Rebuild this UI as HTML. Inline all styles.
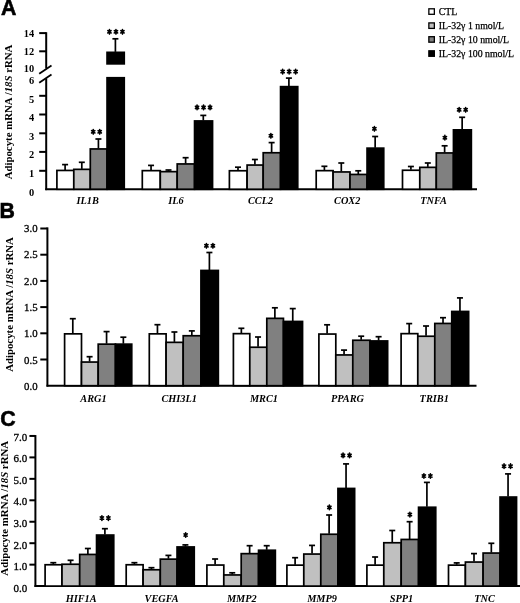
<!DOCTYPE html>
<html><head><meta charset="utf-8"><title>Figure</title>
<style>
html,body{margin:0;padding:0;background:#fff;}
body{width:520px;height:603px;overflow:hidden;}
svg{display:block;will-change:transform;filter:blur(0.3px);}
text{fill:#000;}
</style></head>
<body>
<svg width="520" height="603" viewBox="0 0 520 603">
<rect x="0" y="0" width="520" height="603" fill="#fff"/>
<text transform="translate(0.90,15.30) scale(0.93,1)" x="0" y="0" font-family='"Liberation Sans", sans-serif' font-size="22.9" font-weight="bold" stroke="#000" stroke-width="0.6">A</text>
<line x1="46.20" y1="32.20" x2="46.20" y2="68.50" stroke="#000" stroke-width="2.0" stroke-linecap="butt"/>
<line x1="46.20" y1="78.30" x2="46.20" y2="190.15" stroke="#000" stroke-width="2.0" stroke-linecap="butt"/>
<line x1="45.30" y1="189.25" x2="477.00" y2="189.25" stroke="#000" stroke-width="2.0" stroke-linecap="butt"/>
<line x1="39.20" y1="33.10" x2="46.20" y2="33.10" stroke="#000" stroke-width="2.0" stroke-linecap="butt"/>
<line x1="39.20" y1="51.30" x2="46.20" y2="51.30" stroke="#000" stroke-width="2.0" stroke-linecap="butt"/>
<line x1="39.20" y1="95.80" x2="46.20" y2="95.80" stroke="#000" stroke-width="2.0" stroke-linecap="butt"/>
<line x1="39.20" y1="114.50" x2="46.20" y2="114.50" stroke="#000" stroke-width="2.0" stroke-linecap="butt"/>
<line x1="39.20" y1="133.30" x2="46.20" y2="133.30" stroke="#000" stroke-width="2.0" stroke-linecap="butt"/>
<line x1="39.20" y1="151.90" x2="46.20" y2="151.90" stroke="#000" stroke-width="2.0" stroke-linecap="butt"/>
<line x1="39.20" y1="170.80" x2="46.20" y2="170.80" stroke="#000" stroke-width="2.0" stroke-linecap="butt"/>
<line x1="39.20" y1="73.80" x2="51.50" y2="65.50" stroke="#000" stroke-width="1.8" stroke-linecap="butt"/>
<line x1="39.20" y1="82.70" x2="51.50" y2="74.60" stroke="#000" stroke-width="1.8" stroke-linecap="butt"/>
<text x="34.20" y="37.30" font-family='"Liberation Serif", serif' font-size="10.4" font-weight="bold" font-style="normal" text-anchor="end" >14</text>
<text x="34.20" y="55.30" font-family='"Liberation Serif", serif' font-size="10.4" font-weight="bold" font-style="normal" text-anchor="end" >12</text>
<text x="34.20" y="71.50" font-family='"Liberation Serif", serif' font-size="10.4" font-weight="bold" font-style="normal" text-anchor="end" >10</text>
<text x="34.20" y="83.50" font-family='"Liberation Serif", serif' font-size="10.4" font-weight="bold" font-style="normal" text-anchor="end" >6</text>
<text x="34.20" y="102.70" font-family='"Liberation Serif", serif' font-size="10.4" font-weight="bold" font-style="normal" text-anchor="end" >5</text>
<text x="34.20" y="120.80" font-family='"Liberation Serif", serif' font-size="10.4" font-weight="bold" font-style="normal" text-anchor="end" >4</text>
<text x="34.20" y="139.60" font-family='"Liberation Serif", serif' font-size="10.4" font-weight="bold" font-style="normal" text-anchor="end" >3</text>
<text x="34.20" y="158.30" font-family='"Liberation Serif", serif' font-size="10.4" font-weight="bold" font-style="normal" text-anchor="end" >2</text>
<text x="34.20" y="177.20" font-family='"Liberation Serif", serif' font-size="10.4" font-weight="bold" font-style="normal" text-anchor="end" >1</text>
<text x="34.20" y="195.80" font-family='"Liberation Serif", serif' font-size="10.4" font-weight="bold" font-style="normal" text-anchor="end" >0</text>
<text transform="translate(12.40,112.00) rotate(-90)" x="0" y="0" font-family='"Liberation Serif", serif' font-size="10.8" font-weight="bold" text-anchor="middle">Adipocyte mRNA /<tspan font-style="italic">18S</tspan> rRNA</text>
<!-- A groups -->
<line x1="65.10" y1="170.00" x2="65.10" y2="164.60" stroke="#000" stroke-width="1.7" stroke-linecap="butt"/>
<line x1="62.10" y1="164.60" x2="68.10" y2="164.60" stroke="#000" stroke-width="1.7" stroke-linecap="butt"/>
<rect x="56.90" y="170.45" width="16.90" height="18.80" fill="#ffffff" stroke="#000" stroke-width="1.7"/>
<line x1="81.80" y1="168.90" x2="81.80" y2="162.30" stroke="#000" stroke-width="1.7" stroke-linecap="butt"/>
<line x1="78.80" y1="162.30" x2="84.80" y2="162.30" stroke="#000" stroke-width="1.7" stroke-linecap="butt"/>
<rect x="73.80" y="169.35" width="16.50" height="19.90" fill="#c0c0c0" stroke="#000" stroke-width="1.7"/>
<line x1="98.42" y1="148.50" x2="98.42" y2="139.00" stroke="#000" stroke-width="1.7" stroke-linecap="butt"/>
<line x1="95.42" y1="139.00" x2="101.42" y2="139.00" stroke="#000" stroke-width="1.7" stroke-linecap="butt"/>
<rect x="90.30" y="148.95" width="16.75" height="40.30" fill="#808080" stroke="#000" stroke-width="1.7"/>
<line x1="115.40" y1="51.90" x2="115.40" y2="38.80" stroke="#000" stroke-width="1.7" stroke-linecap="butt"/>
<line x1="112.40" y1="38.80" x2="118.40" y2="38.80" stroke="#000" stroke-width="1.7" stroke-linecap="butt"/>
<rect x="107.05" y="52.35" width="17.20" height="11.50" fill="#000000" stroke="#000" stroke-width="1.7"/>
<rect x="107.05" y="77.75" width="17.20" height="111.50" fill="#000000" stroke="#000" stroke-width="1.7"/>
<path d="M93.22 129.50L93.22 134.10M91.59 130.65L94.86 132.95M94.86 130.65L91.59 132.95" stroke="#000" stroke-width="1.6" stroke-linecap="round" fill="none"/>
<path d="M99.72 129.50L99.72 134.10M98.09 130.65L101.36 132.95M101.36 130.65L98.09 132.95" stroke="#000" stroke-width="1.6" stroke-linecap="round" fill="none"/>
<path d="M109.45 29.50L109.45 34.10M107.82 30.65L111.08 32.95M111.08 30.65L107.82 32.95" stroke="#000" stroke-width="1.6" stroke-linecap="round" fill="none"/>
<path d="M115.95 29.50L115.95 34.10M114.32 30.65L117.58 32.95M117.58 30.65L114.32 32.95" stroke="#000" stroke-width="1.6" stroke-linecap="round" fill="none"/>
<path d="M122.45 29.50L122.45 34.10M120.82 30.65L124.08 32.95M124.08 30.65L120.82 32.95" stroke="#000" stroke-width="1.6" stroke-linecap="round" fill="none"/>
<line x1="151.05" y1="170.20" x2="151.05" y2="165.40" stroke="#000" stroke-width="1.7" stroke-linecap="butt"/>
<line x1="148.05" y1="165.40" x2="154.05" y2="165.40" stroke="#000" stroke-width="1.7" stroke-linecap="butt"/>
<rect x="142.30" y="170.65" width="18.00" height="18.60" fill="#ffffff" stroke="#000" stroke-width="1.7"/>
<line x1="168.50" y1="171.20" x2="168.50" y2="170.00" stroke="#000" stroke-width="1.7" stroke-linecap="butt"/>
<line x1="165.50" y1="170.00" x2="171.50" y2="170.00" stroke="#000" stroke-width="1.7" stroke-linecap="butt"/>
<rect x="160.30" y="171.65" width="16.90" height="17.60" fill="#c0c0c0" stroke="#000" stroke-width="1.7"/>
<line x1="185.62" y1="163.50" x2="185.62" y2="157.70" stroke="#000" stroke-width="1.7" stroke-linecap="butt"/>
<line x1="182.62" y1="157.70" x2="188.62" y2="157.70" stroke="#000" stroke-width="1.7" stroke-linecap="butt"/>
<rect x="177.20" y="163.95" width="17.35" height="25.30" fill="#808080" stroke="#000" stroke-width="1.7"/>
<line x1="203.30" y1="120.50" x2="203.30" y2="115.40" stroke="#000" stroke-width="1.7" stroke-linecap="butt"/>
<line x1="200.30" y1="115.40" x2="206.30" y2="115.40" stroke="#000" stroke-width="1.7" stroke-linecap="butt"/>
<rect x="194.55" y="120.95" width="18.00" height="68.30" fill="#000000" stroke="#000" stroke-width="1.7"/>
<path d="M197.05 105.10L197.05 109.70M195.42 106.25L198.68 108.55M198.68 106.25L195.42 108.55" stroke="#000" stroke-width="1.6" stroke-linecap="round" fill="none"/>
<path d="M203.55 105.10L203.55 109.70M201.92 106.25L205.18 108.55M205.18 106.25L201.92 108.55" stroke="#000" stroke-width="1.6" stroke-linecap="round" fill="none"/>
<path d="M210.05 105.10L210.05 109.70M208.42 106.25L211.68 108.55M211.68 106.25L208.42 108.55" stroke="#000" stroke-width="1.6" stroke-linecap="round" fill="none"/>
<line x1="238.00" y1="170.30" x2="238.00" y2="167.20" stroke="#000" stroke-width="1.7" stroke-linecap="butt"/>
<line x1="235.00" y1="167.20" x2="241.00" y2="167.20" stroke="#000" stroke-width="1.7" stroke-linecap="butt"/>
<rect x="229.40" y="170.75" width="17.70" height="18.50" fill="#ffffff" stroke="#000" stroke-width="1.7"/>
<line x1="254.90" y1="164.60" x2="254.90" y2="159.50" stroke="#000" stroke-width="1.7" stroke-linecap="butt"/>
<line x1="251.90" y1="159.50" x2="257.90" y2="159.50" stroke="#000" stroke-width="1.7" stroke-linecap="butt"/>
<rect x="247.10" y="165.05" width="16.10" height="24.20" fill="#c0c0c0" stroke="#000" stroke-width="1.7"/>
<line x1="271.62" y1="152.30" x2="271.62" y2="142.60" stroke="#000" stroke-width="1.7" stroke-linecap="butt"/>
<line x1="268.62" y1="142.60" x2="274.62" y2="142.60" stroke="#000" stroke-width="1.7" stroke-linecap="butt"/>
<rect x="263.20" y="152.75" width="17.35" height="36.50" fill="#808080" stroke="#000" stroke-width="1.7"/>
<line x1="288.90" y1="86.20" x2="288.90" y2="78.10" stroke="#000" stroke-width="1.7" stroke-linecap="butt"/>
<line x1="285.90" y1="78.10" x2="291.90" y2="78.10" stroke="#000" stroke-width="1.7" stroke-linecap="butt"/>
<rect x="280.55" y="86.65" width="17.20" height="102.60" fill="#000000" stroke="#000" stroke-width="1.7"/>
<path d="M270.88 133.50L270.88 138.10M269.24 134.65L272.51 136.95M272.51 134.65L269.24 136.95" stroke="#000" stroke-width="1.6" stroke-linecap="round" fill="none"/>
<path d="M282.65 69.30L282.65 73.90M281.02 70.45L284.28 72.75M284.28 70.45L281.02 72.75" stroke="#000" stroke-width="1.6" stroke-linecap="round" fill="none"/>
<path d="M289.15 69.30L289.15 73.90M287.52 70.45L290.78 72.75M290.78 70.45L287.52 72.75" stroke="#000" stroke-width="1.6" stroke-linecap="round" fill="none"/>
<path d="M295.65 69.30L295.65 73.90M294.02 70.45L297.28 72.75M297.28 70.45L294.02 72.75" stroke="#000" stroke-width="1.6" stroke-linecap="round" fill="none"/>
<line x1="324.40" y1="170.20" x2="324.40" y2="166.30" stroke="#000" stroke-width="1.7" stroke-linecap="butt"/>
<line x1="321.40" y1="166.30" x2="327.40" y2="166.30" stroke="#000" stroke-width="1.7" stroke-linecap="butt"/>
<rect x="316.20" y="170.65" width="16.90" height="18.60" fill="#ffffff" stroke="#000" stroke-width="1.7"/>
<line x1="341.30" y1="171.50" x2="341.30" y2="163.00" stroke="#000" stroke-width="1.7" stroke-linecap="butt"/>
<line x1="338.30" y1="163.00" x2="344.30" y2="163.00" stroke="#000" stroke-width="1.7" stroke-linecap="butt"/>
<rect x="333.10" y="171.95" width="16.90" height="17.30" fill="#c0c0c0" stroke="#000" stroke-width="1.7"/>
<line x1="358.27" y1="174.00" x2="358.27" y2="170.80" stroke="#000" stroke-width="1.7" stroke-linecap="butt"/>
<line x1="355.27" y1="170.80" x2="361.27" y2="170.80" stroke="#000" stroke-width="1.7" stroke-linecap="butt"/>
<rect x="350.00" y="174.45" width="17.05" height="14.80" fill="#808080" stroke="#000" stroke-width="1.7"/>
<line x1="375.15" y1="147.70" x2="375.15" y2="136.50" stroke="#000" stroke-width="1.7" stroke-linecap="butt"/>
<line x1="372.15" y1="136.50" x2="378.15" y2="136.50" stroke="#000" stroke-width="1.7" stroke-linecap="butt"/>
<rect x="367.05" y="148.15" width="16.70" height="41.10" fill="#000000" stroke="#000" stroke-width="1.7"/>
<path d="M374.40 126.50L374.40 131.10M372.77 127.65L376.03 129.95M376.03 127.65L372.77 129.95" stroke="#000" stroke-width="1.6" stroke-linecap="round" fill="none"/>
<line x1="410.90" y1="169.80" x2="410.90" y2="166.50" stroke="#000" stroke-width="1.7" stroke-linecap="butt"/>
<line x1="407.90" y1="166.50" x2="413.90" y2="166.50" stroke="#000" stroke-width="1.7" stroke-linecap="butt"/>
<rect x="402.50" y="170.25" width="17.30" height="19.00" fill="#ffffff" stroke="#000" stroke-width="1.7"/>
<line x1="427.80" y1="166.90" x2="427.80" y2="163.00" stroke="#000" stroke-width="1.7" stroke-linecap="butt"/>
<line x1="424.80" y1="163.00" x2="430.80" y2="163.00" stroke="#000" stroke-width="1.7" stroke-linecap="butt"/>
<rect x="419.80" y="167.35" width="16.50" height="21.90" fill="#c0c0c0" stroke="#000" stroke-width="1.7"/>
<line x1="444.62" y1="152.50" x2="444.62" y2="145.80" stroke="#000" stroke-width="1.7" stroke-linecap="butt"/>
<line x1="441.62" y1="145.80" x2="447.62" y2="145.80" stroke="#000" stroke-width="1.7" stroke-linecap="butt"/>
<rect x="436.30" y="152.95" width="17.15" height="36.30" fill="#808080" stroke="#000" stroke-width="1.7"/>
<line x1="462.15" y1="129.40" x2="462.15" y2="117.30" stroke="#000" stroke-width="1.7" stroke-linecap="butt"/>
<line x1="459.15" y1="117.30" x2="465.15" y2="117.30" stroke="#000" stroke-width="1.7" stroke-linecap="butt"/>
<rect x="453.45" y="129.85" width="17.90" height="59.40" fill="#000000" stroke="#000" stroke-width="1.7"/>
<path d="M444.88 135.40L444.88 140.00M443.24 136.55L446.51 138.85M446.51 136.55L443.24 138.85" stroke="#000" stroke-width="1.6" stroke-linecap="round" fill="none"/>
<path d="M459.15 107.50L459.15 112.10M457.52 108.65L460.78 110.95M460.78 108.65L457.52 110.95" stroke="#000" stroke-width="1.6" stroke-linecap="round" fill="none"/>
<path d="M465.65 107.50L465.65 112.10M464.02 108.65L467.28 110.95M467.28 108.65L464.02 110.95" stroke="#000" stroke-width="1.6" stroke-linecap="round" fill="none"/>
<text x="87.70" y="203.50" font-family='"Liberation Serif", serif' font-size="10.3" font-weight="bold" font-style="italic" text-anchor="middle" >IL1B</text>
<text x="176.00" y="203.50" font-family='"Liberation Serif", serif' font-size="10.3" font-weight="bold" font-style="italic" text-anchor="middle" >IL6</text>
<text x="260.50" y="203.50" font-family='"Liberation Serif", serif' font-size="10.3" font-weight="bold" font-style="italic" text-anchor="middle" >CCL2</text>
<text x="347.20" y="203.50" font-family='"Liberation Serif", serif' font-size="10.3" font-weight="bold" font-style="italic" text-anchor="middle" >COX2</text>
<text x="433.50" y="203.50" font-family='"Liberation Serif", serif' font-size="10.3" font-weight="bold" font-style="italic" text-anchor="middle" >TNFA</text>
<rect x="428.85" y="8.80" width="5.5" height="5.5" fill="#ffffff" stroke="#000" stroke-width="1.3"/>
<text x="438.80" y="14.80" font-family='"Liberation Serif", serif' font-size="9.8" font-weight="normal" font-style="normal" text-anchor="start" stroke="#000" stroke-width="0.25">CTL</text>
<rect x="428.85" y="22.90" width="5.5" height="5.5" fill="#c0c0c0" stroke="#000" stroke-width="1.3"/>
<text x="438.80" y="29.20" font-family='"Liberation Serif", serif' font-size="9.8" font-weight="normal" font-style="normal" text-anchor="start" stroke="#000" stroke-width="0.25">IL-32γ 1 nmol/L</text>
<rect x="428.85" y="36.70" width="5.5" height="5.5" fill="#808080" stroke="#000" stroke-width="1.3"/>
<text x="438.80" y="43.00" font-family='"Liberation Serif", serif' font-size="9.8" font-weight="normal" font-style="normal" text-anchor="start" stroke="#000" stroke-width="0.25">IL-32γ 10 nmol/L</text>
<rect x="428.85" y="50.80" width="5.5" height="5.5" fill="#000000" stroke="#000" stroke-width="1.3"/>
<text x="438.80" y="57.00" font-family='"Liberation Serif", serif' font-size="9.8" font-weight="normal" font-style="normal" text-anchor="start" stroke="#000" stroke-width="0.25">IL-32γ 100 nmol/L</text>
<text transform="translate(-0.50,218.10) scale(0.93,1)" x="0" y="0" font-family='"Liberation Sans", sans-serif' font-size="22.9" font-weight="bold" stroke="#000" stroke-width="0.6">B</text>
<line x1="47.40" y1="227.40" x2="47.40" y2="386.60" stroke="#000" stroke-width="2.0" stroke-linecap="butt"/>
<line x1="46.50" y1="385.70" x2="476.50" y2="385.70" stroke="#000" stroke-width="2.0" stroke-linecap="butt"/>
<line x1="40.30" y1="359.50" x2="47.40" y2="359.50" stroke="#000" stroke-width="2.0" stroke-linecap="butt"/>
<line x1="40.30" y1="333.30" x2="47.40" y2="333.30" stroke="#000" stroke-width="2.0" stroke-linecap="butt"/>
<line x1="40.30" y1="307.10" x2="47.40" y2="307.10" stroke="#000" stroke-width="2.0" stroke-linecap="butt"/>
<line x1="40.30" y1="280.90" x2="47.40" y2="280.90" stroke="#000" stroke-width="2.0" stroke-linecap="butt"/>
<line x1="40.30" y1="254.70" x2="47.40" y2="254.70" stroke="#000" stroke-width="2.0" stroke-linecap="butt"/>
<line x1="40.30" y1="228.50" x2="47.40" y2="228.50" stroke="#000" stroke-width="2.0" stroke-linecap="butt"/>
<text x="37.60" y="390.42" font-family='"Liberation Serif", serif' font-size="10.8" font-weight="normal" font-style="normal" text-anchor="end" stroke="#000" stroke-width="0.3">0.0</text>
<text x="37.60" y="363.95" font-family='"Liberation Serif", serif' font-size="10.8" font-weight="normal" font-style="normal" text-anchor="end" stroke="#000" stroke-width="0.3">0.5</text>
<text x="37.60" y="337.48" font-family='"Liberation Serif", serif' font-size="10.8" font-weight="normal" font-style="normal" text-anchor="end" stroke="#000" stroke-width="0.3">1.0</text>
<text x="37.60" y="311.01" font-family='"Liberation Serif", serif' font-size="10.8" font-weight="normal" font-style="normal" text-anchor="end" stroke="#000" stroke-width="0.3">1.5</text>
<text x="37.60" y="284.54" font-family='"Liberation Serif", serif' font-size="10.8" font-weight="normal" font-style="normal" text-anchor="end" stroke="#000" stroke-width="0.3">2.0</text>
<text x="37.60" y="258.07" font-family='"Liberation Serif", serif' font-size="10.8" font-weight="normal" font-style="normal" text-anchor="end" stroke="#000" stroke-width="0.3">2.5</text>
<text x="37.60" y="231.60" font-family='"Liberation Serif", serif' font-size="10.8" font-weight="normal" font-style="normal" text-anchor="end" stroke="#000" stroke-width="0.3">3.0</text>
<text transform="translate(13.10,304.50) rotate(-90)" x="0" y="0" font-family='"Liberation Serif", serif' font-size="10.8" font-weight="bold" text-anchor="middle">Adipocyte mRNA /<tspan font-style="italic">18S</tspan> rRNA</text>
<line x1="72.80" y1="333.40" x2="72.80" y2="318.70" stroke="#000" stroke-width="1.7" stroke-linecap="butt"/>
<line x1="69.80" y1="318.70" x2="75.80" y2="318.70" stroke="#000" stroke-width="1.7" stroke-linecap="butt"/>
<rect x="64.60" y="333.85" width="16.90" height="51.85" fill="#ffffff" stroke="#000" stroke-width="1.7"/>
<line x1="89.60" y1="361.60" x2="89.60" y2="356.70" stroke="#000" stroke-width="1.7" stroke-linecap="butt"/>
<line x1="86.60" y1="356.70" x2="92.60" y2="356.70" stroke="#000" stroke-width="1.7" stroke-linecap="butt"/>
<rect x="81.50" y="362.05" width="16.70" height="23.65" fill="#c0c0c0" stroke="#000" stroke-width="1.7"/>
<line x1="106.57" y1="343.70" x2="106.57" y2="331.60" stroke="#000" stroke-width="1.7" stroke-linecap="butt"/>
<line x1="103.57" y1="331.60" x2="109.57" y2="331.60" stroke="#000" stroke-width="1.7" stroke-linecap="butt"/>
<rect x="98.20" y="344.15" width="17.25" height="41.55" fill="#808080" stroke="#000" stroke-width="1.7"/>
<line x1="123.35" y1="343.70" x2="123.35" y2="337.20" stroke="#000" stroke-width="1.7" stroke-linecap="butt"/>
<line x1="120.35" y1="337.20" x2="126.35" y2="337.20" stroke="#000" stroke-width="1.7" stroke-linecap="butt"/>
<rect x="115.45" y="344.15" width="16.30" height="41.55" fill="#000000" stroke="#000" stroke-width="1.7"/>
<line x1="157.45" y1="333.40" x2="157.45" y2="324.70" stroke="#000" stroke-width="1.7" stroke-linecap="butt"/>
<line x1="154.45" y1="324.70" x2="160.45" y2="324.70" stroke="#000" stroke-width="1.7" stroke-linecap="butt"/>
<rect x="149.30" y="333.85" width="16.80" height="51.85" fill="#ffffff" stroke="#000" stroke-width="1.7"/>
<line x1="174.40" y1="341.90" x2="174.40" y2="332.00" stroke="#000" stroke-width="1.7" stroke-linecap="butt"/>
<line x1="171.40" y1="332.00" x2="177.40" y2="332.00" stroke="#000" stroke-width="1.7" stroke-linecap="butt"/>
<rect x="166.10" y="342.35" width="17.10" height="43.35" fill="#c0c0c0" stroke="#000" stroke-width="1.7"/>
<line x1="191.82" y1="335.30" x2="191.82" y2="330.90" stroke="#000" stroke-width="1.7" stroke-linecap="butt"/>
<line x1="188.82" y1="330.90" x2="194.82" y2="330.90" stroke="#000" stroke-width="1.7" stroke-linecap="butt"/>
<rect x="183.20" y="335.75" width="17.75" height="49.95" fill="#808080" stroke="#000" stroke-width="1.7"/>
<line x1="209.40" y1="270.00" x2="209.40" y2="252.50" stroke="#000" stroke-width="1.7" stroke-linecap="butt"/>
<line x1="206.40" y1="252.50" x2="212.40" y2="252.50" stroke="#000" stroke-width="1.7" stroke-linecap="butt"/>
<rect x="200.95" y="270.45" width="17.40" height="115.25" fill="#000000" stroke="#000" stroke-width="1.7"/>
<path d="M206.40 243.50L206.40 248.10M204.77 244.65L208.03 246.95M208.03 244.65L204.77 246.95" stroke="#000" stroke-width="1.6" stroke-linecap="round" fill="none"/>
<path d="M212.90 243.50L212.90 248.10M211.27 244.65L214.53 246.95M214.53 244.65L211.27 246.95" stroke="#000" stroke-width="1.6" stroke-linecap="round" fill="none"/>
<line x1="241.35" y1="333.20" x2="241.35" y2="328.30" stroke="#000" stroke-width="1.7" stroke-linecap="butt"/>
<line x1="238.35" y1="328.30" x2="244.35" y2="328.30" stroke="#000" stroke-width="1.7" stroke-linecap="butt"/>
<rect x="233.40" y="333.65" width="16.40" height="52.05" fill="#ffffff" stroke="#000" stroke-width="1.7"/>
<line x1="258.05" y1="346.80" x2="258.05" y2="337.00" stroke="#000" stroke-width="1.7" stroke-linecap="butt"/>
<line x1="255.05" y1="337.00" x2="261.05" y2="337.00" stroke="#000" stroke-width="1.7" stroke-linecap="butt"/>
<rect x="249.80" y="347.25" width="17.00" height="38.45" fill="#c0c0c0" stroke="#000" stroke-width="1.7"/>
<line x1="274.88" y1="317.90" x2="274.88" y2="307.80" stroke="#000" stroke-width="1.7" stroke-linecap="butt"/>
<line x1="271.88" y1="307.80" x2="277.88" y2="307.80" stroke="#000" stroke-width="1.7" stroke-linecap="butt"/>
<rect x="266.80" y="318.35" width="16.65" height="67.35" fill="#808080" stroke="#000" stroke-width="1.7"/>
<line x1="292.75" y1="321.00" x2="292.75" y2="308.60" stroke="#000" stroke-width="1.7" stroke-linecap="butt"/>
<line x1="289.75" y1="308.60" x2="295.75" y2="308.60" stroke="#000" stroke-width="1.7" stroke-linecap="butt"/>
<rect x="283.45" y="321.45" width="19.10" height="64.25" fill="#000000" stroke="#000" stroke-width="1.7"/>
<line x1="327.10" y1="333.60" x2="327.10" y2="324.80" stroke="#000" stroke-width="1.7" stroke-linecap="butt"/>
<line x1="324.10" y1="324.80" x2="330.10" y2="324.80" stroke="#000" stroke-width="1.7" stroke-linecap="butt"/>
<rect x="318.90" y="334.05" width="16.90" height="51.65" fill="#ffffff" stroke="#000" stroke-width="1.7"/>
<line x1="344.05" y1="354.50" x2="344.05" y2="350.10" stroke="#000" stroke-width="1.7" stroke-linecap="butt"/>
<line x1="341.05" y1="350.10" x2="347.05" y2="350.10" stroke="#000" stroke-width="1.7" stroke-linecap="butt"/>
<rect x="335.80" y="354.95" width="17.00" height="30.75" fill="#c0c0c0" stroke="#000" stroke-width="1.7"/>
<line x1="361.18" y1="339.80" x2="361.18" y2="336.20" stroke="#000" stroke-width="1.7" stroke-linecap="butt"/>
<line x1="358.18" y1="336.20" x2="364.18" y2="336.20" stroke="#000" stroke-width="1.7" stroke-linecap="butt"/>
<rect x="352.80" y="340.25" width="17.25" height="45.45" fill="#808080" stroke="#000" stroke-width="1.7"/>
<line x1="378.60" y1="340.50" x2="378.60" y2="336.70" stroke="#000" stroke-width="1.7" stroke-linecap="butt"/>
<line x1="375.60" y1="336.70" x2="381.60" y2="336.70" stroke="#000" stroke-width="1.7" stroke-linecap="butt"/>
<rect x="370.05" y="340.95" width="17.60" height="44.75" fill="#000000" stroke="#000" stroke-width="1.7"/>
<line x1="409.20" y1="333.20" x2="409.20" y2="323.60" stroke="#000" stroke-width="1.7" stroke-linecap="butt"/>
<line x1="406.20" y1="323.60" x2="412.20" y2="323.60" stroke="#000" stroke-width="1.7" stroke-linecap="butt"/>
<rect x="401.10" y="333.65" width="16.70" height="52.05" fill="#ffffff" stroke="#000" stroke-width="1.7"/>
<line x1="426.05" y1="335.80" x2="426.05" y2="326.00" stroke="#000" stroke-width="1.7" stroke-linecap="butt"/>
<line x1="423.05" y1="326.00" x2="429.05" y2="326.00" stroke="#000" stroke-width="1.7" stroke-linecap="butt"/>
<rect x="417.80" y="336.25" width="17.00" height="49.45" fill="#c0c0c0" stroke="#000" stroke-width="1.7"/>
<line x1="443.02" y1="323.00" x2="443.02" y2="317.70" stroke="#000" stroke-width="1.7" stroke-linecap="butt"/>
<line x1="440.02" y1="317.70" x2="446.02" y2="317.70" stroke="#000" stroke-width="1.7" stroke-linecap="butt"/>
<rect x="434.80" y="323.45" width="16.95" height="62.25" fill="#808080" stroke="#000" stroke-width="1.7"/>
<line x1="459.95" y1="311.00" x2="459.95" y2="297.90" stroke="#000" stroke-width="1.7" stroke-linecap="butt"/>
<line x1="456.95" y1="297.90" x2="462.95" y2="297.90" stroke="#000" stroke-width="1.7" stroke-linecap="butt"/>
<rect x="451.75" y="311.45" width="16.90" height="74.25" fill="#000000" stroke="#000" stroke-width="1.7"/>
<text x="93.50" y="401.80" font-family='"Liberation Serif", serif' font-size="10.3" font-weight="bold" font-style="italic" text-anchor="middle" >ARG1</text>
<text x="179.20" y="401.80" font-family='"Liberation Serif", serif' font-size="10.3" font-weight="bold" font-style="italic" text-anchor="middle" >CHI3L1</text>
<text x="263.90" y="401.80" font-family='"Liberation Serif", serif' font-size="10.3" font-weight="bold" font-style="italic" text-anchor="middle" >MRC1</text>
<text x="347.50" y="401.80" font-family='"Liberation Serif", serif' font-size="10.3" font-weight="bold" font-style="italic" text-anchor="middle" >PPARG</text>
<text x="434.20" y="401.80" font-family='"Liberation Serif", serif' font-size="10.3" font-weight="bold" font-style="italic" text-anchor="middle" >TRIB1</text>
<text transform="translate(0.30,426.10) scale(0.93,1)" x="0" y="0" font-family='"Liberation Sans", sans-serif' font-size="23.0" font-weight="bold" stroke="#000" stroke-width="0.6">C</text>
<line x1="35.40" y1="435.05" x2="35.40" y2="587.00" stroke="#000" stroke-width="2.0" stroke-linecap="butt"/>
<line x1="34.50" y1="586.10" x2="520.00" y2="586.10" stroke="#000" stroke-width="2.0" stroke-linecap="butt"/>
<line x1="29.40" y1="564.65" x2="35.40" y2="564.65" stroke="#000" stroke-width="2.0" stroke-linecap="butt"/>
<line x1="29.40" y1="543.20" x2="35.40" y2="543.20" stroke="#000" stroke-width="2.0" stroke-linecap="butt"/>
<line x1="29.40" y1="521.75" x2="35.40" y2="521.75" stroke="#000" stroke-width="2.0" stroke-linecap="butt"/>
<line x1="29.40" y1="500.30" x2="35.40" y2="500.30" stroke="#000" stroke-width="2.0" stroke-linecap="butt"/>
<line x1="29.40" y1="478.85" x2="35.40" y2="478.85" stroke="#000" stroke-width="2.0" stroke-linecap="butt"/>
<line x1="29.40" y1="457.40" x2="35.40" y2="457.40" stroke="#000" stroke-width="2.0" stroke-linecap="butt"/>
<line x1="29.40" y1="435.95" x2="35.40" y2="435.95" stroke="#000" stroke-width="2.0" stroke-linecap="butt"/>
<text x="27.30" y="591.77" font-family='"Liberation Serif", serif' font-size="11.0" font-weight="normal" font-style="normal" text-anchor="end" stroke="#000" stroke-width="0.3">0.0</text>
<text x="27.30" y="570.16" font-family='"Liberation Serif", serif' font-size="11.0" font-weight="normal" font-style="normal" text-anchor="end" stroke="#000" stroke-width="0.3">1.0</text>
<text x="27.30" y="548.55" font-family='"Liberation Serif", serif' font-size="11.0" font-weight="normal" font-style="normal" text-anchor="end" stroke="#000" stroke-width="0.3">2.0</text>
<text x="27.30" y="526.94" font-family='"Liberation Serif", serif' font-size="11.0" font-weight="normal" font-style="normal" text-anchor="end" stroke="#000" stroke-width="0.3">3.0</text>
<text x="27.30" y="505.33" font-family='"Liberation Serif", serif' font-size="11.0" font-weight="normal" font-style="normal" text-anchor="end" stroke="#000" stroke-width="0.3">4.0</text>
<text x="27.30" y="483.72" font-family='"Liberation Serif", serif' font-size="11.0" font-weight="normal" font-style="normal" text-anchor="end" stroke="#000" stroke-width="0.3">5.0</text>
<text x="27.30" y="462.11" font-family='"Liberation Serif", serif' font-size="11.0" font-weight="normal" font-style="normal" text-anchor="end" stroke="#000" stroke-width="0.3">6.0</text>
<text x="27.30" y="440.50" font-family='"Liberation Serif", serif' font-size="11.0" font-weight="normal" font-style="normal" text-anchor="end" stroke="#000" stroke-width="0.3">7.0</text>
<text transform="translate(7.70,508.30) rotate(-90)" x="0" y="0" font-family='"Liberation Serif", serif' font-size="10.8" font-weight="bold" text-anchor="middle">Adipocyte mRNA /<tspan font-style="italic">18S</tspan> rRNA</text>
<line x1="53.30" y1="564.30" x2="53.30" y2="562.70" stroke="#000" stroke-width="1.7" stroke-linecap="butt"/>
<line x1="50.30" y1="562.70" x2="56.30" y2="562.70" stroke="#000" stroke-width="1.7" stroke-linecap="butt"/>
<rect x="45.10" y="564.75" width="16.90" height="21.35" fill="#ffffff" stroke="#000" stroke-width="1.7"/>
<line x1="70.60" y1="563.80" x2="70.60" y2="560.30" stroke="#000" stroke-width="1.7" stroke-linecap="butt"/>
<line x1="67.60" y1="560.30" x2="73.60" y2="560.30" stroke="#000" stroke-width="1.7" stroke-linecap="butt"/>
<rect x="62.00" y="564.25" width="17.70" height="21.85" fill="#c0c0c0" stroke="#000" stroke-width="1.7"/>
<line x1="87.88" y1="554.00" x2="87.88" y2="548.50" stroke="#000" stroke-width="1.7" stroke-linecap="butt"/>
<line x1="84.88" y1="548.50" x2="90.88" y2="548.50" stroke="#000" stroke-width="1.7" stroke-linecap="butt"/>
<rect x="79.70" y="554.45" width="16.85" height="31.65" fill="#808080" stroke="#000" stroke-width="1.7"/>
<line x1="104.90" y1="534.60" x2="104.90" y2="528.70" stroke="#000" stroke-width="1.7" stroke-linecap="butt"/>
<line x1="101.90" y1="528.70" x2="107.90" y2="528.70" stroke="#000" stroke-width="1.7" stroke-linecap="butt"/>
<rect x="96.55" y="535.05" width="17.20" height="51.05" fill="#000000" stroke="#000" stroke-width="1.7"/>
<path d="M101.90 515.80L101.90 520.40M100.27 516.95L103.53 519.25M103.53 516.95L100.27 519.25" stroke="#000" stroke-width="1.6" stroke-linecap="round" fill="none"/>
<path d="M108.40 515.80L108.40 520.40M106.77 516.95L110.03 519.25M110.03 516.95L106.77 519.25" stroke="#000" stroke-width="1.6" stroke-linecap="round" fill="none"/>
<line x1="134.40" y1="564.30" x2="134.40" y2="562.70" stroke="#000" stroke-width="1.7" stroke-linecap="butt"/>
<line x1="131.40" y1="562.70" x2="137.40" y2="562.70" stroke="#000" stroke-width="1.7" stroke-linecap="butt"/>
<rect x="126.20" y="564.75" width="16.90" height="21.35" fill="#ffffff" stroke="#000" stroke-width="1.7"/>
<line x1="151.45" y1="569.30" x2="151.45" y2="567.70" stroke="#000" stroke-width="1.7" stroke-linecap="butt"/>
<line x1="148.45" y1="567.70" x2="154.45" y2="567.70" stroke="#000" stroke-width="1.7" stroke-linecap="butt"/>
<rect x="143.10" y="569.75" width="17.20" height="16.35" fill="#c0c0c0" stroke="#000" stroke-width="1.7"/>
<line x1="168.43" y1="558.70" x2="168.43" y2="555.40" stroke="#000" stroke-width="1.7" stroke-linecap="butt"/>
<line x1="165.43" y1="555.40" x2="171.43" y2="555.40" stroke="#000" stroke-width="1.7" stroke-linecap="butt"/>
<rect x="160.30" y="559.15" width="16.75" height="26.95" fill="#808080" stroke="#000" stroke-width="1.7"/>
<line x1="185.40" y1="546.50" x2="185.40" y2="544.90" stroke="#000" stroke-width="1.7" stroke-linecap="butt"/>
<line x1="182.40" y1="544.90" x2="188.40" y2="544.90" stroke="#000" stroke-width="1.7" stroke-linecap="butt"/>
<rect x="177.05" y="546.95" width="17.20" height="39.15" fill="#000000" stroke="#000" stroke-width="1.7"/>
<path d="M185.65 532.70L185.65 537.30M184.02 533.85L187.28 536.15M187.28 533.85L184.02 536.15" stroke="#000" stroke-width="1.6" stroke-linecap="round" fill="none"/>
<line x1="215.10" y1="564.60" x2="215.10" y2="559.00" stroke="#000" stroke-width="1.7" stroke-linecap="butt"/>
<line x1="212.10" y1="559.00" x2="218.10" y2="559.00" stroke="#000" stroke-width="1.7" stroke-linecap="butt"/>
<rect x="206.90" y="565.05" width="16.90" height="21.05" fill="#ffffff" stroke="#000" stroke-width="1.7"/>
<line x1="232.25" y1="574.50" x2="232.25" y2="572.80" stroke="#000" stroke-width="1.7" stroke-linecap="butt"/>
<line x1="229.25" y1="572.80" x2="235.25" y2="572.80" stroke="#000" stroke-width="1.7" stroke-linecap="butt"/>
<rect x="223.80" y="574.95" width="17.40" height="11.15" fill="#c0c0c0" stroke="#000" stroke-width="1.7"/>
<line x1="249.62" y1="553.20" x2="249.62" y2="545.70" stroke="#000" stroke-width="1.7" stroke-linecap="butt"/>
<line x1="246.62" y1="545.70" x2="252.62" y2="545.70" stroke="#000" stroke-width="1.7" stroke-linecap="butt"/>
<rect x="241.20" y="553.65" width="17.35" height="32.45" fill="#808080" stroke="#000" stroke-width="1.7"/>
<line x1="266.70" y1="549.80" x2="266.70" y2="545.70" stroke="#000" stroke-width="1.7" stroke-linecap="butt"/>
<line x1="263.70" y1="545.70" x2="269.70" y2="545.70" stroke="#000" stroke-width="1.7" stroke-linecap="butt"/>
<rect x="258.55" y="550.25" width="16.80" height="35.85" fill="#000000" stroke="#000" stroke-width="1.7"/>
<line x1="295.10" y1="564.70" x2="295.10" y2="557.70" stroke="#000" stroke-width="1.7" stroke-linecap="butt"/>
<line x1="292.10" y1="557.70" x2="298.10" y2="557.70" stroke="#000" stroke-width="1.7" stroke-linecap="butt"/>
<rect x="286.90" y="565.15" width="16.90" height="20.95" fill="#ffffff" stroke="#000" stroke-width="1.7"/>
<line x1="312.05" y1="553.60" x2="312.05" y2="545.40" stroke="#000" stroke-width="1.7" stroke-linecap="butt"/>
<line x1="309.05" y1="545.40" x2="315.05" y2="545.40" stroke="#000" stroke-width="1.7" stroke-linecap="butt"/>
<rect x="303.80" y="554.05" width="17.00" height="32.05" fill="#c0c0c0" stroke="#000" stroke-width="1.7"/>
<line x1="329.12" y1="533.80" x2="329.12" y2="515.00" stroke="#000" stroke-width="1.7" stroke-linecap="butt"/>
<line x1="326.12" y1="515.00" x2="332.12" y2="515.00" stroke="#000" stroke-width="1.7" stroke-linecap="butt"/>
<rect x="320.80" y="534.25" width="17.15" height="51.85" fill="#808080" stroke="#000" stroke-width="1.7"/>
<line x1="346.05" y1="488.00" x2="346.05" y2="463.90" stroke="#000" stroke-width="1.7" stroke-linecap="butt"/>
<line x1="343.05" y1="463.90" x2="349.05" y2="463.90" stroke="#000" stroke-width="1.7" stroke-linecap="butt"/>
<rect x="337.95" y="488.45" width="16.70" height="97.65" fill="#000000" stroke="#000" stroke-width="1.7"/>
<path d="M329.38 505.10L329.38 509.70M327.74 506.25L331.01 508.55M331.01 506.25L327.74 508.55" stroke="#000" stroke-width="1.6" stroke-linecap="round" fill="none"/>
<path d="M343.05 453.10L343.05 457.70M341.42 454.25L344.68 456.55M344.68 454.25L341.42 456.55" stroke="#000" stroke-width="1.6" stroke-linecap="round" fill="none"/>
<path d="M349.55 453.10L349.55 457.70M347.92 454.25L351.18 456.55M351.18 454.25L347.92 456.55" stroke="#000" stroke-width="1.6" stroke-linecap="round" fill="none"/>
<line x1="375.10" y1="564.70" x2="375.10" y2="557.00" stroke="#000" stroke-width="1.7" stroke-linecap="butt"/>
<line x1="372.10" y1="557.00" x2="378.10" y2="557.00" stroke="#000" stroke-width="1.7" stroke-linecap="butt"/>
<rect x="366.90" y="565.15" width="16.90" height="20.95" fill="#ffffff" stroke="#000" stroke-width="1.7"/>
<line x1="392.25" y1="542.30" x2="392.25" y2="530.50" stroke="#000" stroke-width="1.7" stroke-linecap="butt"/>
<line x1="389.25" y1="530.50" x2="395.25" y2="530.50" stroke="#000" stroke-width="1.7" stroke-linecap="butt"/>
<rect x="383.80" y="542.75" width="17.40" height="43.35" fill="#c0c0c0" stroke="#000" stroke-width="1.7"/>
<line x1="409.62" y1="539.00" x2="409.62" y2="521.70" stroke="#000" stroke-width="1.7" stroke-linecap="butt"/>
<line x1="406.62" y1="521.70" x2="412.62" y2="521.70" stroke="#000" stroke-width="1.7" stroke-linecap="butt"/>
<rect x="401.20" y="539.45" width="17.35" height="46.65" fill="#808080" stroke="#000" stroke-width="1.7"/>
<line x1="426.90" y1="506.80" x2="426.90" y2="482.40" stroke="#000" stroke-width="1.7" stroke-linecap="butt"/>
<line x1="423.90" y1="482.40" x2="429.90" y2="482.40" stroke="#000" stroke-width="1.7" stroke-linecap="butt"/>
<rect x="418.55" y="507.25" width="17.20" height="78.85" fill="#000000" stroke="#000" stroke-width="1.7"/>
<path d="M409.88 512.30L409.88 516.90M408.24 513.45L411.51 515.75M411.51 513.45L408.24 515.75" stroke="#000" stroke-width="1.6" stroke-linecap="round" fill="none"/>
<path d="M423.90 473.70L423.90 478.30M422.27 474.85L425.53 477.15M425.53 474.85L422.27 477.15" stroke="#000" stroke-width="1.6" stroke-linecap="round" fill="none"/>
<path d="M430.40 473.70L430.40 478.30M428.77 474.85L432.03 477.15M432.03 474.85L428.77 477.15" stroke="#000" stroke-width="1.6" stroke-linecap="round" fill="none"/>
<line x1="456.70" y1="564.70" x2="456.70" y2="562.90" stroke="#000" stroke-width="1.7" stroke-linecap="butt"/>
<line x1="453.70" y1="562.90" x2="459.70" y2="562.90" stroke="#000" stroke-width="1.7" stroke-linecap="butt"/>
<rect x="448.50" y="565.15" width="16.90" height="20.95" fill="#ffffff" stroke="#000" stroke-width="1.7"/>
<line x1="474.00" y1="561.60" x2="474.00" y2="553.60" stroke="#000" stroke-width="1.7" stroke-linecap="butt"/>
<line x1="471.00" y1="553.60" x2="477.00" y2="553.60" stroke="#000" stroke-width="1.7" stroke-linecap="butt"/>
<rect x="465.40" y="562.05" width="17.70" height="24.05" fill="#c0c0c0" stroke="#000" stroke-width="1.7"/>
<line x1="491.33" y1="552.60" x2="491.33" y2="543.30" stroke="#000" stroke-width="1.7" stroke-linecap="butt"/>
<line x1="488.33" y1="543.30" x2="494.33" y2="543.30" stroke="#000" stroke-width="1.7" stroke-linecap="butt"/>
<rect x="483.10" y="553.05" width="16.95" height="33.05" fill="#808080" stroke="#000" stroke-width="1.7"/>
<line x1="508.05" y1="496.60" x2="508.05" y2="473.90" stroke="#000" stroke-width="1.7" stroke-linecap="butt"/>
<line x1="505.05" y1="473.90" x2="511.05" y2="473.90" stroke="#000" stroke-width="1.7" stroke-linecap="butt"/>
<rect x="500.05" y="497.05" width="16.50" height="89.05" fill="#000000" stroke="#000" stroke-width="1.7"/>
<path d="M504.05 463.90L504.05 468.50M502.42 465.05L505.68 467.35M505.68 465.05L502.42 467.35" stroke="#000" stroke-width="1.6" stroke-linecap="round" fill="none"/>
<path d="M510.55 463.90L510.55 468.50M508.92 465.05L512.18 467.35M512.18 465.05L508.92 467.35" stroke="#000" stroke-width="1.6" stroke-linecap="round" fill="none"/>
<text x="81.20" y="601.70" font-family='"Liberation Serif", serif' font-size="10.3" font-weight="bold" font-style="italic" text-anchor="middle" >HIF1A</text>
<text x="161.60" y="601.70" font-family='"Liberation Serif", serif' font-size="10.3" font-weight="bold" font-style="italic" text-anchor="middle" >VEGFA</text>
<text x="241.80" y="601.70" font-family='"Liberation Serif", serif' font-size="10.3" font-weight="bold" font-style="italic" text-anchor="middle" >MMP2</text>
<text x="322.00" y="601.70" font-family='"Liberation Serif", serif' font-size="10.3" font-weight="bold" font-style="italic" text-anchor="middle" >MMP9</text>
<text x="401.40" y="601.70" font-family='"Liberation Serif", serif' font-size="10.3" font-weight="bold" font-style="italic" text-anchor="middle" >SPP1</text>
<text x="484.60" y="601.70" font-family='"Liberation Serif", serif' font-size="10.3" font-weight="bold" font-style="italic" text-anchor="middle" >TNC</text>
</svg>
</body></html>
